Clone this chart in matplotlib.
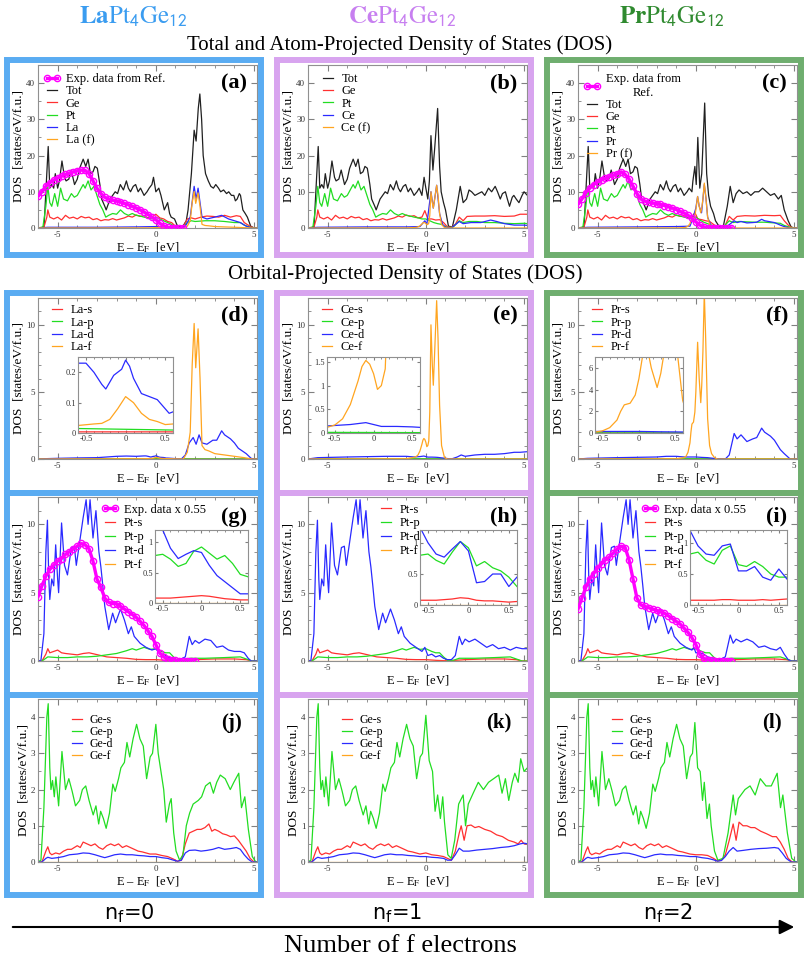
import matplotlib
matplotlib.use('Agg')
import matplotlib.pyplot as plt
from matplotlib.patches import Rectangle, FancyArrowPatch
from matplotlib.ticker import MultipleLocator, FuncFormatter
import numpy as np

plt.rcParams['font.family'] = ['Liberation Serif', 'DejaVu Serif']
plt.rcParams['mathtext.fontset'] = 'stix'
plt.rcParams['axes.unicode_minus'] = False

# ====================== data: (E - E_F [eV], DOS [states/eV/f.u.]) ======================
# --- total DOS, valence part shared by the three compounds ---
tot_val = [(-6.0, 0.0), (-5.8, 0.0), (-5.69, 0.5), (-5.6, 10.0), (-5.48, 22.5), (-5.4, 11.0), (-5.3, 12.0),
           (-5.2, 11.0), (-5.12, 15.0), (-5.0, 11.0), (-4.91, 13.0), (-4.78, 18.5), (-4.65, 14.0), (-4.57, 13.0),
           (-4.43, 13.5), (-4.31, 16.0), (-4.14, 12.0), (-4.0, 13.5), (-3.88, 16.5), (-3.7, 19.0), (-3.57, 17.0),
           (-3.45, 19.0), (-3.33, 15.0), (-3.2, 15.5), (-3.1, 17.0), (-2.98, 16.5), (-2.85, 12.0), (-2.76, 8.0),
           (-2.6, 6.0), (-2.53, 5.0), (-2.43, 6.5), (-2.33, 8.0), (-2.2, 9.0), (-2.07, 10.0), (-1.95, 9.5),
           (-1.81, 12.0), (-1.65, 10.5), (-1.5, 13.0), (-1.4, 11.0), (-1.29, 10.0), (-1.15, 11.5), (-1.03, 12.0),
           (-0.9, 10.0), (-0.78, 11.0), (-0.6, 9.0), (-0.45, 10.0), (-0.34, 11.0)]
tot_la = [(-0.2, 12.0), (-0.12, 14.0), (0.0, 10.0), (0.15, 11.0), (0.26, 9.0), (0.43, 5.0), (0.6, 7.0), (0.7, 4.0),
          (0.78, 3.0), (0.95, 2.5), (1.12, 0.3), (1.38, 0.5), (1.55, 2.0), (1.64, 5.0), (1.81, 15.0), (1.95, 27.0),
          (2.05, 24.0), (2.16, 33.0), (2.24, 37.0), (2.33, 30.0), (2.41, 20.0), (2.53, 15.0), (2.67, 13.0),
          (2.8, 11.5), (2.93, 11.0), (3.05, 12.0), (3.19, 11.0), (3.3, 10.0), (3.45, 10.5), (3.6, 9.5), (3.71, 10.0),
          (3.85, 9.0), (3.97, 9.0), (4.05, 7.5), (4.14, 8.0), (4.25, 9.5), (4.31, 9.0), (4.43, 5.0), (4.55, 4.0),
          (4.66, 3.0), (4.83, 0.5), (5.0, 0.0), (5.2, 0.0)]
tot_ce = [(-0.2, 9.0), (-0.09, 14.0), (0.0, 11.0), (0.1, 8.0), (0.18, 13.0), (0.26, 25.5), (0.36, 16.0), (0.45, 22.0),
          (0.6, 33.0), (0.7, 17.0), (0.78, 10.0), (0.9, 7.0), (1.0, 5.0), (1.15, 0.5), (1.35, 0.3), (1.55, 5.0),
          (1.75, 11.5), (1.9, 7.0), (2.07, 8.0), (2.2, 10.5), (2.33, 10.0), (2.5, 9.0), (2.67, 9.5), (2.85, 10.0),
          (3.0, 9.0), (3.19, 11.0), (3.35, 10.0), (3.53, 11.5), (3.65, 10.0), (3.79, 8.0), (3.9, 9.5), (4.05, 10.0),
          (4.15, 8.0), (4.26, 6.0), (4.4, 8.5), (4.48, 9.0), (4.6, 8.0), (4.74, 7.0), (4.9, 9.0), (5.0, 10.0),
          (5.17, 9.0)]
tot_pr = [(-0.2, 10.0), (-0.15, 13.0), (-0.05, 17.0), (0.02, 12.0), (0.1, 25.0), (0.2, 11.0), (0.3, 15.0),
          (0.45, 34.5), (0.55, 15.0), (0.65, 9.0), (0.75, 6.0), (0.9, 4.0), (1.0, 2.0), (1.2, 0.3), (1.4, 0.5),
          (1.6, 6.0), (1.75, 11.5), (1.9, 7.0), (2.05, 9.5), (2.2, 10.5), (2.4, 9.5), (2.6, 10.0), (2.8, 9.0),
          (3.0, 10.0), (3.2, 10.0), (3.4, 11.0), (3.6, 10.0), (3.8, 9.0), (4.0, 9.5), (4.2, 8.0), (4.35, 9.0),
          (4.5, 5.0), (4.7, 2.0), (4.85, 0.3), (5.0, 0.0), (5.2, 0.0)]

# --- Ge and Pt atom-projected DOS ---
ge_val = [(-6.0, 0.0), (-5.7, 0.2), (-5.55, 3.0), (-5.5, 5.0), (-5.4, 3.0), (-5.2, 2.5), (-5.0, 3.0), (-4.8, 2.2),
          (-4.6, 3.5), (-4.4, 2.7), (-4.2, 3.0), (-4.0, 2.5), (-3.8, 3.2), (-3.6, 2.8), (-3.4, 3.0), (-3.2, 2.3),
          (-3.0, 2.6), (-2.8, 2.0), (-2.6, 2.3), (-2.4, 2.2), (-2.2, 2.6), (-2.0, 2.2), (-1.8, 2.5), (-1.6, 2.8),
          (-1.4, 3.3), (-1.2, 3.0), (-1.0, 3.6), (-0.8, 3.2), (-0.6, 3.4), (-0.4, 2.8)]
ge_la = [(-0.2, 3.0), (0.0, 3.8), (0.2, 2.8), (0.4, 2.5), (0.6, 1.8), (0.8, 1.5), (1.0, 0.5), (1.2, 0.1), (1.4, 0.3),
         (1.6, 2.5), (1.8, 2.8), (2.0, 2.5), (2.3, 3.0), (2.6, 3.3), (2.9, 3.2), (3.2, 3.0), (3.5, 3.5), (3.8, 3.0),
         (4.1, 3.4), (4.3, 3.2), (4.5, 1.5), (4.7, 0.8), (4.9, 0.2), (5.05, 0.0), (5.2, 0.0)]
ge_ce = [(-0.2, 3.0), (-0.05, 4.8), (0.1, 2.5), (0.3, 2.5), (0.5, 2.2), (0.7, 2.3), (0.9, 1.5), (1.1, 0.3), (1.3, 0.2),
         (1.5, 1.0), (1.7, 3.0), (1.9, 2.0), (2.1, 3.2), (2.5, 3.3), (3.0, 3.3), (3.5, 3.4), (4.0, 3.2), (4.5, 3.3),
         (4.8, 3.8), (5.2, 3.8)]
ge_pr = [(-0.2, 3.0), (-0.05, 4.3), (0.1, 2.5), (0.3, 2.3), (0.5, 2.0), (0.7, 1.8), (0.9, 1.0), (1.1, 0.2), (1.3, 0.1),
         (1.5, 0.8), (1.7, 3.2), (1.9, 2.2), (2.1, 3.2), (2.5, 3.4), (3.0, 3.3), (3.5, 3.5), (4.0, 3.4), (4.3, 3.5),
         (4.5, 2.0), (4.7, 0.8), (4.9, 0.1), (5.05, 0.0), (5.2, 0.0)]
pt_val = [(-6.0, 0.0), (-5.75, 0.3), (-5.6, 6.0), (-5.5, 11.5), (-5.4, 7.0), (-5.3, 6.0), (-5.15, 9.5), (-5.0, 6.0),
          (-4.85, 11.0), (-4.7, 8.0), (-4.5, 7.5), (-4.3, 9.5), (-4.15, 8.5), (-4.0, 9.0), (-3.85, 10.5), (-3.7, 12.0),
          (-3.6, 11.0), (-3.45, 13.0), (-3.3, 10.5), (-3.15, 11.5), (-3.0, 9.0), (-2.85, 6.5), (-2.7, 5.0),
          (-2.55, 3.0), (-2.4, 3.5), (-2.2, 4.0), (-2.0, 3.8), (-1.8, 5.0), (-1.6, 4.0), (-1.4, 3.5), (-1.2, 4.0),
          (-1.0, 3.5), (-0.8, 3.3), (-0.6, 3.0), (-0.4, 2.8)]
pt_la = [(-0.2, 2.5), (0.0, 3.0), (0.2, 2.5), (0.4, 2.0), (0.6, 1.5), (0.8, 1.0), (1.0, 0.3), (1.2, 0.1), (1.4, 0.2),
         (1.6, 1.5), (1.8, 2.0), (2.0, 1.8), (2.5, 2.0), (3.0, 2.0), (3.5, 1.8), (4.0, 1.5), (4.3, 1.5), (4.5, 0.8),
         (4.8, 0.2), (5.0, 0.0), (5.2, 0.0)]
pt_ce = [(-0.2, 2.5), (0.0, 2.5), (0.2, 2.0), (0.4, 1.5), (0.6, 1.2), (0.8, 1.0), (1.0, 0.3), (1.2, 0.1), (1.4, 0.3),
         (1.7, 2.0), (1.9, 1.5), (2.2, 1.8), (2.6, 1.8), (3.0, 1.5), (3.5, 1.5), (4.0, 1.3), (4.5, 1.2), (5.0, 1.3),
         (5.2, 1.2)]
pt_pr = [(-0.2, 2.5), (0.0, 3.0), (0.2, 2.2), (0.4, 1.6), (0.6, 1.2), (0.8, 0.8), (1.0, 0.3), (1.2, 0.1), (1.4, 0.3),
         (1.7, 2.0), (1.9, 1.5), (2.2, 1.8), (2.6, 1.7), (3.0, 1.6), (3.5, 1.6), (4.0, 1.4), (4.3, 1.3), (4.5, 0.7),
         (4.8, 0.2), (5.0, 0.0), (5.2, 0.0)]

# --- rare-earth atom DOS and its f part ---
la_atom = [(-6.0, 0.0), (-5.5, 0.2), (-3.0, 0.2), (-1.0, 0.3), (0.0, 0.4), (0.5, 0.2), (1.2, 0.0), (1.5, 0.5),
           (1.75, 3.0), (1.95, 11.5), (2.05, 8.0), (2.15, 11.0), (2.35, 3.0), (2.6, 2.5), (3.0, 3.0), (3.35, 3.5),
           (3.7, 2.5), (4.0, 2.0), (4.3, 1.5), (4.6, 0.5), (4.9, 0.0), (5.2, 0.0)]
ce_atom = [(-6.0, 0.0), (-5.5, 0.2), (-3.0, 0.3), (-1.0, 0.3), (-0.3, 0.4), (-0.05, 2.0), (0.05, 1.0), (0.26, 10.0),
           (0.38, 5.5), (0.55, 11.8), (0.7, 4.0), (0.85, 1.0), (1.0, 0.2), (1.3, 0.0), (1.7, 1.8), (1.9, 1.2),
           (2.3, 1.5), (2.8, 1.5), (3.3, 2.2), (3.6, 1.8), (4.0, 1.2), (4.5, 0.8), (5.0, 0.8), (5.2, 0.7)]
pr_atom = [(-6.0, 0.0), (-5.5, 0.2), (-3.0, 0.3), (-1.0, 0.4), (-0.3, 0.5), (-0.15, 2.7), (0.0, 5.5), (0.09, 8.7),
           (0.17, 6.0), (0.29, 4.2), (0.36, 8.0), (0.43, 12.0), (0.52, 8.0), (0.6, 3.0), (0.78, 0.5), (0.95, 0.1),
           (1.3, 0.0), (1.6, 0.5), (1.95, 2.0), (2.1, 1.5), (2.3, 1.8), (2.6, 1.4), (2.9, 1.5), (3.1, 1.6),
           (3.35, 2.4), (3.5, 2.0), (3.8, 1.7), (4.0, 1.5), (4.3, 0.8), (4.5, 0.4), (4.8, 0.0), (5.2, 0.0)]
la_f = [(-6.0, 0.0), (-1.0, 0.02), (-0.6, 0.025), (-0.4, 0.03), (-0.3, 0.032), (-0.2, 0.045), (-0.1, 0.08), (0.0, 0.12),
        (0.1, 0.1), (0.2, 0.065), (0.3, 0.045), (0.4, 0.038), (0.5, 0.028), (0.6, 0.03), (1.0, 0.01), (1.4, 0.0),
        (1.6, 0.5), (1.75, 2.0), (1.85, 7.0), (1.95, 10.1), (2.03, 6.8), (2.15, 9.7), (2.25, 6.0), (2.35, 1.0),
        (2.5, 0.7), (2.7, 0.6), (3.0, 0.4), (3.5, 0.3), (4.0, 0.2), (4.5, 0.1), (4.9, 0.0), (5.2, 0.0)]
ce_f = [(-6.0, 0.0), (-1.0, 0.02), (-0.6, 0.12), (-0.5, 0.17), (-0.4, 0.3), (-0.3, 0.6), (-0.2, 1.1), (-0.15, 1.4),
        (-0.1, 1.53), (-0.05, 1.45), (0.0, 1.25), (0.05, 0.92), (0.1, 1.0), (0.15, 1.35), (0.2, 3.5), (0.26, 10.0),
        (0.33, 7.0), (0.38, 5.5), (0.45, 8.0), (0.55, 11.8), (0.62, 9.0), (0.7, 4.0), (0.8, 1.0), (0.95, 0.1),
        (1.1, 0.0), (5.2, 0.0)]
pr_f = [(-6.0, 0.0), (-1.0, 0.02), (-0.6, 0.1), (-0.5, 0.2), (-0.4, 0.5), (-0.3, 1.2), (-0.25, 2.0), (-0.2, 2.6),
        (-0.12, 2.75), (-0.05, 3.5), (0.0, 5.0), (0.09, 8.7), (0.17, 6.0), (0.25, 4.2), (0.3, 5.5), (0.36, 8.0),
        (0.43, 12.4), (0.5, 9.0), (0.6, 3.0), (0.7, 1.0), (0.8, 0.4), (0.95, 0.1), (1.1, 0.0), (5.2, 0.0)]

# --- rare-earth orbital d DOS (s and p are nearly zero) ---
la_d = [(-6.0, 0.0), (-5.5, 0.03), (-5.0, 0.05), (-4.0, 0.08), (-3.0, 0.1), (-2.0, 0.2), (-1.5, 0.22), (-1.0, 0.2),
        (-0.6, 0.23), (-0.5, 0.23), (-0.4, 0.2), (-0.3, 0.16), (-0.25, 0.145), (-0.15, 0.19), (-0.1, 0.2),
        (-0.05, 0.21), (0.0, 0.24), (0.05, 0.22), (0.1, 0.18), (0.2, 0.13), (0.3, 0.12), (0.4, 0.11), (0.5, 0.08),
        (0.55, 0.065), (0.6, 0.07), (1.0, 0.03), (1.3, 0.0), (1.5, 0.3), (1.7, 1.2), (1.9, 1.6), (2.05, 1.1),
        (2.2, 1.8), (2.35, 1.2), (2.6, 1.1), (2.9, 1.4), (3.1, 1.4), (3.35, 2.1), (3.5, 1.8), (3.8, 1.5), (4.0, 1.2),
        (4.2, 0.8), (4.4, 0.6), (4.6, 0.4), (4.85, 0.05), (5.0, 0.0), (5.2, 0.0)]
ce_d = [(-6.0, 0.0), (-5.5, 0.1), (-4.0, 0.15), (-2.0, 0.2), (-1.0, 0.2), (-0.6, 0.15), (-0.3, 0.18), (-0.1, 0.22),
        (0.0, 0.18), (0.1, 0.14), (0.3, 0.14), (0.5, 0.13), (0.6, 0.12), (1.0, 0.05), (1.3, 0.0), (1.6, 0.15),
        (1.8, 0.3), (2.0, 0.2), (2.5, 0.3), (3.0, 0.35), (3.5, 0.35), (4.0, 0.4), (4.5, 0.5), (4.8, 0.5), (5.2, 0.55)]
pr_d = [(-6.0, 0.0), (-5.5, 0.05), (-4.0, 0.1), (-2.0, 0.15), (-1.5, 0.2), (-1.0, 0.2), (-0.6, 0.15), (-0.3, 0.15),
        (0.0, 0.15), (0.3, 0.12), (0.6, 0.1), (1.0, 0.03), (1.5, 0.0), (1.7, 0.3), (1.95, 1.9), (2.1, 1.5),
        (2.3, 1.8), (2.6, 1.3), (2.9, 1.5), (3.1, 1.6), (3.35, 2.3), (3.5, 2.0), (3.8, 1.7), (4.0, 1.4), (4.3, 0.7),
        (4.5, 0.4), (4.8, 0.0), (5.2, 0.0)]
re_s = [(-6.0, 0.0), (-0.6, 0.004), (0.6, 0.004), (5.2, 0.0)]
re_p = [(-6.0, 0.0), (-1.0, 0.015), (-0.6, 0.015), (0.6, 0.01), (1.5, 0.0), (5.2, 0.0)]
zero_line = [(-6.0, 0.0), (5.2, 0.0)]

# --- Pt orbital DOS ---
pt_d_val = [(-6.0, 0.0), (-5.85, 0.05), (-5.7, 2.0), (-5.6, 8.0), (-5.52, 10.3), (-5.45, 6.0), (-5.4, 4.5),
            (-5.3, 6.0), (-5.2, 5.5), (-5.1, 8.5), (-5.0, 6.0), (-4.95, 5.0), (-4.8, 10.1), (-4.65, 7.0),
            (-4.5, 6.3), (-4.3, 8.3), (-4.15, 8.4), (-4.05, 7.0), (-3.85, 9.0), (-3.7, 10.5), (-3.55, 11.8),
            (-3.45, 10.0), (-3.35, 11.8), (-3.2, 9.0), (-3.05, 11.0), (-2.9, 8.0), (-2.8, 6.9), (-2.7, 5.5),
            (-2.6, 4.0), (-2.4, 2.3), (-2.2, 3.5), (-2.05, 2.8), (-1.8, 3.8), (-1.6, 3.0), (-1.4, 2.0),
            (-1.25, 2.5), (-1.1, 1.8), (-0.8, 1.3), (-0.5, 1.0)]
pt_d_la = [(-0.2, 0.8), (0.0, 0.9), (0.2, 0.5), (0.4, 0.5), (0.6, 0.3), (0.9, 0.1), (1.2, 0.1), (1.5, 0.3),
           (1.7, 1.8), (1.85, 1.2), (2.0, 1.5), (2.2, 1.3), (2.5, 1.6), (2.8, 1.5), (3.1, 1.0), (3.4, 1.1),
           (3.7, 0.8), (4.0, 0.7), (4.3, 0.7), (4.5, 0.6), (4.7, 0.2), (4.85, 0.0), (5.2, 0.0)]
pt_d_ce = [(-0.2, 0.7), (-0.05, 1.0), (0.1, 0.4), (0.3, 0.5), (0.5, 0.3), (0.7, 0.4), (0.9, 0.2), (1.1, 0.1),
           (1.3, 0.1), (1.5, 0.4), (1.7, 1.8), (1.85, 1.2), (2.0, 1.6), (2.2, 1.4), (2.5, 1.6), (2.8, 1.3),
           (3.1, 1.0), (3.4, 1.2), (3.7, 0.9), (4.0, 1.0), (4.3, 0.8), (4.6, 1.0), (4.9, 0.9), (5.2, 0.9)]
pt_d_pr = [(-0.2, 0.8), (-0.1, 1.0), (0.0, 0.6), (0.2, 0.6), (0.4, 0.5), (0.6, 0.3), (0.9, 0.2), (1.2, 0.1),
           (1.5, 0.3), (1.75, 1.9), (1.9, 1.3), (2.05, 1.6), (2.3, 1.4), (2.6, 1.6), (2.9, 1.4), (3.2, 1.0),
           (3.5, 1.1), (3.8, 0.9), (4.1, 0.8), (4.3, 1.0), (4.5, 0.5), (4.7, 0.1), (4.85, 0.0), (5.2, 0.0)]
pt_s = [(-6.0, 0.0), (-5.8, 0.0), (-5.6, 0.5), (-5.5, 0.9), (-5.4, 0.6), (-5.2, 0.7), (-5.0, 0.8), (-4.8, 0.6),
        (-4.6, 0.55), (-4.3, 0.5), (-4.0, 0.45), (-3.7, 0.55), (-3.4, 0.6), (-3.1, 0.5), (-2.8, 0.4), (-2.5, 0.3),
        (-2.0, 0.25), (-1.5, 0.2), (-1.0, 0.12), (-0.5, 0.1), (0.0, 0.1), (0.5, 0.05), (1.0, 0.02), (1.5, 0.05),
        (2.0, 0.1), (3.0, 0.15), (4.0, 0.15), (4.6, 0.1), (4.9, 0.0), (5.2, 0.0)]
pt_p = [(-6.0, 0.0), (-5.8, 0.0), (-5.6, 0.2), (-5.5, 0.3), (-5.0, 0.25), (-4.5, 0.25), (-4.0, 0.3), (-3.5, 0.3),
        (-3.0, 0.35), (-2.5, 0.45), (-2.0, 0.55), (-1.5, 0.75), (-1.2, 0.9), (-1.0, 0.8), (-0.6, 1.0), (-0.3, 0.85),
        (0.0, 0.9), (0.3, 0.7), (0.5, 0.6), (0.7, 0.6), (0.9, 0.3), (1.1, 0.05), (1.4, 0.05), (1.7, 0.2),
        (2.5, 0.2), (3.5, 0.25), (4.3, 0.3), (4.6, 0.15), (4.9, 0.0), (5.2, 0.0)]

# Pt insets near E_F
inset_e = [-0.6, -0.5, -0.4, -0.3, -0.2, -0.1, 0.0, 0.1, 0.2, 0.3, 0.4, 0.5, 0.6]
ins_d_la = [1.35, 1.2, 0.9, 0.73, 0.8, 0.86, 0.83, 0.62, 0.45, 0.35, 0.25, 0.15, 0.15]
ins_p_la = [0.78, 0.8, 0.72, 0.6, 0.65, 0.85, 0.92, 0.82, 0.72, 0.78, 0.65, 0.47, 0.43]
ins_s_la = [0.08, 0.08, 0.08, 0.09, 0.1, 0.11, 0.12, 0.11, 0.09, 0.07, 0.06, 0.05, 0.05]
ins_d_ce = [1.25, 1.0, 0.82, 0.77, 0.9, 1.02, 0.87, 0.36, 0.38, 0.5, 0.5, 0.3, 0.45]
ins_p_ce = [0.8, 0.82, 0.72, 0.66, 0.85, 1.02, 0.92, 0.63, 0.7, 0.6, 0.55, 0.45, 0.3]
ins_s_ce = [0.08, 0.08, 0.08, 0.09, 0.1, 0.12, 0.11, 0.08, 0.07, 0.07, 0.06, 0.05, 0.06]
ins_d_pr = [1.2, 0.95, 0.82, 0.8, 0.95, 0.98, 0.55, 0.55, 0.62, 0.45, 0.4, 0.58, 0.42]
ins_p_pr = [0.82, 0.85, 0.72, 0.66, 0.88, 0.95, 0.65, 0.62, 0.7, 0.62, 0.5, 0.45, 0.45]
ins_s_pr = [0.08, 0.08, 0.08, 0.08, 0.09, 0.09, 0.08, 0.08, 0.08, 0.09, 0.08, 0.09, 0.1]

# --- Ge orbital DOS ---
ge_p_val = [(-6.0, 0.0), (-5.85, 0.05), (-5.7, 1.5), (-5.55, 4.0), (-5.48, 4.37), (-5.4, 2.6), (-5.34, 2.0),
            (-5.26, 2.25), (-5.17, 1.8), (-5.09, 2.35), (-4.95, 1.55), (-4.78, 3.05), (-4.6, 2.0), (-4.43, 2.3),
            (-4.26, 1.95), (-4.09, 1.55), (-3.88, 1.7), (-3.74, 2.0), (-3.57, 2.1), (-3.4, 1.7), (-3.19, 1.3),
            (-3.05, 1.55), (-2.91, 1.05), (-2.81, 1.4), (-2.67, 1.2), (-2.53, 0.93), (-2.36, 1.35), (-2.19, 2.15),
            (-2.07, 1.95), (-1.9, 2.3), (-1.78, 2.6), (-1.6, 2.75), (-1.47, 3.3), (-1.33, 2.9), (-1.16, 3.4),
            (-0.98, 3.8), (-0.81, 3.4), (-0.64, 3.2), (-0.47, 2.3), (-0.29, 2.9)]
ge_p_la = [(-0.17, 3.0), (0.0, 3.8), (0.12, 3.0), (0.26, 2.5), (0.4, 2.0), (0.53, 1.1), (0.69, 1.6), (0.78, 1.75),
           (0.91, 0.8), (1.03, 0.3), (1.21, 0.05), (1.38, 0.2), (1.55, 1.0), (1.72, 1.35), (1.9, 1.6), (2.16, 1.7),
           (2.33, 1.8), (2.53, 2.1), (2.76, 2.2), (2.93, 1.9), (3.1, 2.2), (3.28, 2.4), (3.53, 2.3), (3.79, 2.0),
           (3.97, 2.2), (4.22, 2.45), (4.36, 1.5), (4.53, 1.8), (4.71, 0.9), (4.91, 0.15), (5.09, 0.0), (5.2, 0.0)]
ge_p_ce = [(-0.17, 3.0), (0.0, 4.05), (0.17, 2.8), (0.34, 2.5), (0.47, 1.4), (0.6, 1.85), (0.74, 1.2), (0.86, 1.8),
           (0.95, 1.1), (1.12, 0.2), (1.29, 0.1), (1.47, 0.6), (1.67, 1.6), (1.9, 1.85), (2.02, 1.0), (2.16, 1.6),
           (2.41, 1.9), (2.67, 2.2), (2.93, 2.0), (3.19, 2.2), (3.45, 2.3), (3.71, 2.4), (3.88, 1.9), (4.05, 2.3),
           (4.22, 1.7), (4.4, 2.2), (4.53, 2.45), (4.7, 2.2), (4.83, 2.85), (5.0, 2.5), (5.17, 2.6)]
ge_p_pr = [(-0.17, 3.0), (-0.05, 3.85), (0.09, 2.6), (0.22, 2.5), (0.34, 1.7), (0.43, 2.2), (0.57, 1.2), (0.69, 1.6),
           (0.78, 1.0), (0.95, 0.3), (1.12, 0.05), (1.38, 0.1), (1.64, 0.8), (1.9, 1.85), (2.02, 1.3), (2.16, 1.75),
           (2.5, 2.0), (2.76, 2.1), (3.02, 1.85), (3.28, 2.3), (3.57, 2.1), (3.84, 2.1), (4.14, 2.45), (4.31, 1.5),
           (4.43, 1.85), (4.66, 0.8), (4.88, 0.1), (5.09, 0.0), (5.2, 0.0)]
ge_s_val = [(-6.0, 0.0), (-5.8, 0.0), (-5.6, 0.3), (-5.5, 0.42), (-5.4, 0.25), (-5.3, 0.2), (-5.1, 0.25), (-4.9, 0.22),
            (-4.7, 0.3), (-4.5, 0.35), (-4.3, 0.35), (-4.0, 0.45), (-3.85, 0.4), (-3.7, 0.55), (-3.5, 0.5),
            (-3.3, 0.45), (-3.1, 0.5), (-2.9, 0.4), (-2.7, 0.35), (-2.5, 0.45), (-2.3, 0.5), (-2.1, 0.45),
            (-1.9, 0.5), (-1.7, 0.4), (-1.5, 0.45), (-1.3, 0.4), (-1.1, 0.35), (-0.9, 0.3), (-0.7, 0.28),
            (-0.5, 0.25), (-0.3, 0.22)]
ge_s_la = [(0.0, 0.22), (0.3, 0.18), (0.6, 0.15), (0.9, 0.08), (1.1, 0.02), (1.3, 0.05), (1.5, 0.5), (1.7, 0.8),
           (1.9, 0.85), (2.1, 0.9), (2.3, 0.9), (2.5, 0.95), (2.7, 1.05), (2.85, 0.85), (3.0, 0.9), (3.2, 0.85),
           (3.4, 0.78), (3.6, 0.75), (3.8, 0.7), (4.0, 0.72), (4.2, 0.6), (4.4, 0.45), (4.6, 0.3), (4.8, 0.1),
           (5.0, 0.0), (5.2, 0.0)]
ge_s_ce = [(0.0, 0.25), (0.3, 0.2), (0.6, 0.18), (0.9, 0.15), (1.1, 0.1), (1.3, 0.05), (1.5, 0.3), (1.7, 0.8),
           (1.8, 1.0), (1.95, 0.6), (2.1, 1.0), (2.3, 1.02), (2.5, 0.95), (2.7, 0.98), (3.0, 0.9), (3.3, 0.85),
           (3.6, 0.75), (3.9, 0.7), (4.2, 0.6), (4.5, 0.55), (4.7, 0.5), (4.85, 0.6), (5.0, 0.5), (5.2, 0.5)]
ge_s_pr = [(0.0, 0.2), (0.3, 0.2), (0.6, 0.18), (0.9, 0.1), (1.1, 0.03), (1.3, 0.05), (1.5, 0.2), (1.7, 0.6),
           (1.9, 1.05), (2.05, 0.6), (2.2, 1.1), (2.4, 1.0), (2.6, 1.0), (2.8, 0.95), (3.0, 0.95), (3.3, 0.85),
           (3.6, 0.78), (3.9, 0.7), (4.1, 0.7), (4.3, 0.55), (4.5, 0.35), (4.7, 0.1), (4.9, 0.0), (5.2, 0.0)]
ge_d_val = [(-6.0, 0.0), (-5.8, 0.0), (-5.6, 0.1), (-5.5, 0.13), (-5.3, 0.1), (-5.0, 0.12), (-4.7, 0.15), (-4.4, 0.2),
            (-4.0, 0.22), (-3.7, 0.25), (-3.4, 0.24), (-3.1, 0.2), (-2.8, 0.15), (-2.6, 0.12), (-2.4, 0.15),
            (-2.1, 0.2), (-1.8, 0.22), (-1.5, 0.2), (-1.2, 0.2), (-0.9, 0.18), (-0.6, 0.17), (-0.3, 0.15)]
ge_d_la = [(0.0, 0.15), (0.3, 0.12), (0.6, 0.1), (0.9, 0.05), (1.1, 0.02), (1.3, 0.05), (1.5, 0.25), (1.7, 0.32),
           (2.0, 0.33), (2.3, 0.3), (2.6, 0.32), (2.9, 0.35), (3.2, 0.4), (3.5, 0.35), (3.8, 0.37), (4.1, 0.4),
           (4.3, 0.35), (4.5, 0.2), (4.7, 0.08), (4.9, 0.0), (5.2, 0.0)]
ge_d_ce = [(0.0, 0.15), (0.3, 0.13), (0.6, 0.12), (0.9, 0.1), (1.1, 0.05), (1.3, 0.05), (1.5, 0.2), (1.7, 0.38),
           (1.9, 0.3), (2.2, 0.3), (2.6, 0.33), (3.0, 0.35), (3.4, 0.37), (3.8, 0.4), (4.2, 0.42), (4.5, 0.45),
           (4.8, 0.5), (5.0, 0.52), (5.2, 0.5)]
ge_d_pr = [(0.0, 0.15), (0.3, 0.12), (0.6, 0.1), (0.9, 0.06), (1.1, 0.02), (1.3, 0.04), (1.5, 0.15), (1.7, 0.3),
           (1.9, 0.4), (2.1, 0.3), (2.4, 0.32), (2.8, 0.35), (3.2, 0.37), (3.6, 0.38), (4.0, 0.4), (4.2, 0.38),
           (4.4, 0.25), (4.6, 0.1), (4.85, 0.0), (5.2, 0.0)]

exp_e_a = [-6.0, -5.8, -5.6, -5.4, -5.2, -5.0, -4.8, -4.6, -4.4, -4.2, -4.0, -3.8, -3.6, -3.4, -3.2, -3.0, -2.8,
           -2.6, -2.4, -2.2, -2.0, -1.8, -1.6, -1.4, -1.2, -1.0, -0.8, -0.6, -0.4, -0.2, 0.0, 0.2, 0.4, 0.6, 0.8,
           1.0, 1.2, 1.4]
exp_a = [8.7, 10.0, 11.5, 12.5, 13.2, 13.8, 14.3, 14.8, 15.2, 15.5, 15.8, 16.0, 15.9, 15.0, 13.0, 11.0, 9.5, 8.5,
         8.0, 7.7, 7.5, 7.2, 6.8, 6.4, 6.0, 5.5, 5.0, 4.4, 3.7, 3.0, 2.3, 1.3, 0.6, 0.2, 0.05, 0.0, 0.0, 0.0]
exp_e_c = exp_e_a + [1.6, 1.8]
exp_c = [6.5, 8.0, 9.8, 11.0, 12.0, 12.7, 13.3, 13.8, 14.2, 14.6, 15.0, 15.5, 14.8, 13.5, 11.5, 9.5, 8.0, 7.4, 7.1,
         6.9, 6.7, 6.5, 6.2, 5.9, 5.5, 5.1, 4.6, 4.1, 3.5, 2.7, 1.7, 0.8, 0.3, 0.1, 0.0, 0.0, 0.0, 0.0, 0.0, 0.0]
exp_e_g = exp_e_a + [1.6, 1.8, 2.0]
exp_g = [4.7, 5.5, 6.2, 6.7, 7.0, 7.3, 7.5, 7.8, 8.0, 8.2, 8.4, 8.6, 8.5, 8.2, 7.3, 6.0, 5.4, 4.6, 4.3, 4.2, 4.2,
         4.0, 3.8, 3.6, 3.4, 3.2, 2.9, 2.6, 2.2, 1.8, 1.2, 0.6, 0.3, 0.15, 0.1, 0.05, 0.02, 0.0, 0.0, 0.0, 0.0]
exp_i = [3.8, 4.6, 5.4, 6.0, 6.4, 6.8, 7.1, 7.4, 7.6, 7.9, 8.2, 8.4, 8.3, 7.4, 6.0, 4.6, 4.1, 4.0, 3.9, 3.8, 3.7,
         3.6, 3.5, 3.3, 3.1, 2.9, 2.7, 2.4, 2.1, 1.7, 1.2, 0.5, 0.2, 0.1, 0.05, 0.0, 0.0, 0.0, 0.0, 0.0]

# ====================== figure ======================
W, H = 810, 959
fig = plt.figure(figsize=(W / 100, H / 100), dpi=100)

K_TOT, K_RED, K_GRN, K_BLU, K_ORA, K_EXP = '#202020', '#ff3030', '#22dd22', '#2a2aff', '#ffa520', '#ff00ff'
col_edge = ['#5aacf2', '#d8a4ef', '#6fae6f']
col_head = ['#3a9cf0', '#c77ff0', '#2f8a2f']
col_x0 = [38, 308, 578]
row_y = [(65, 228), (298, 459), (497, 661), (699, 862)]
fmt = FuncFormatter(lambda v, p: '%g' % v)


def fig_rect(x0, y0, x1, y1):
    return [x0 / W, 1 - y1 / H, (x1 - x0) / W, (y1 - y0) / H]


def xy(pts):
    a = np.array(pts)
    return a[:, 0], a[:, 1]


def panel(c, r, ytop, ymaj, ymin):
    ax = fig.add_axes(fig_rect(col_x0[c], row_y[r][0], col_x0[c] + 219, row_y[r][1]))
    ax.set_xlim(-6, 5.15)
    ax.set_ylim(0, ytop)
    ax.xaxis.set_major_locator(MultipleLocator(5))
    ax.xaxis.set_minor_locator(MultipleLocator(1))
    ax.yaxis.set_major_locator(MultipleLocator(ymaj))
    ax.yaxis.set_minor_locator(MultipleLocator(ymin))
    ax.yaxis.set_major_formatter(fmt)
    ax.tick_params(which='both', direction='in', top=True, right=True, color='#808080',
                   labelsize=6.5, labelcolor='#333333', pad=2)
    ax.tick_params(which='major', length=4)
    ax.tick_params(which='minor', length=2)
    for s in ax.spines.values():
        s.set_color('#909090')
        s.set_linewidth(0.8)
    ax.set_xlabel(r'E – E$_\mathrm{F}$  [eV]', fontsize=9, labelpad=1)
    ax.set_ylabel('DOS  [states/eV/f.u.]', fontsize=9.5, labelpad=1)
    return ax


def inset(ax, rect, ytop, ymaj):
    ia = ax.inset_axes(rect)
    ia.set_xlim(-0.6, 0.6)
    ia.set_ylim(0, ytop)
    ia.set_xticks([-0.5, 0, 0.5])
    ia.xaxis.set_minor_locator(MultipleLocator(0.1))
    ia.yaxis.set_major_locator(MultipleLocator(ymaj))
    ia.xaxis.set_major_formatter(fmt)
    ia.yaxis.set_major_formatter(fmt)
    ia.tick_params(which='both', direction='in', top=True, right=True, color='#808080',
                   labelsize=6, labelcolor='#333333', pad=1.5, length=2.5)
    ia.tick_params(which='minor', length=1.5)
    for s in ia.spines.values():
        s.set_color('#909090')
        s.set_linewidth(0.8)
    return ia


def line(ax, pts, color, label=None):
    e, d = xy(pts)
    ax.plot(e, d, color=color, lw=0.9, label=label)


def exp(ax, e, d, label):
    ax.plot(e, d, '-o', color=K_EXP, mfc='none', ms=4.5, mew=1, lw=2.4, zorder=4, label=label)


def legend(ax, x, y, fs=9, sp=0.02):
    return ax.legend(loc='upper left', bbox_to_anchor=(x, y), frameon=False, fontsize=fs, handlelength=1.4,
                     handletextpad=0.4, labelspacing=sp, borderaxespad=0, borderpad=0, numpoints=2)


def tag(ax, s, x, y, fs=16):
    ax.text(x, y, s, transform=ax.transAxes, ha='right', va='top', fontsize=fs, fontweight='bold')


names = ['La', 'Ce', 'Pr']
tot_c = [tot_la, tot_ce, tot_pr]
ge_c = [ge_la, ge_ce, ge_pr]
pt_c = [pt_la, pt_ce, pt_pr]
atom_c = [la_atom, ce_atom, pr_atom]
f_c = [la_f, ce_f, pr_f]
d_c = [la_d, ce_d, pr_d]
ptd_c = [pt_d_la, pt_d_ce, pt_d_pr]
ins_pt = [(ins_s_la, ins_p_la, ins_d_la), (ins_s_ce, ins_p_ce, ins_d_ce), (ins_s_pr, ins_p_pr, ins_d_pr)]
gep_c = [ge_p_la, ge_p_ce, ge_p_pr]
ges_c = [ge_s_la, ge_s_ce, ge_s_pr]
ged_c = [ge_d_la, ge_d_ce, ge_d_pr]
letters = 'abcdefghijkl'

for c in range(3):
    nm = names[c]
    # row 1: total and atom projected
    ax = panel(c, 0, 45, 10, 5)
    if c == 0:
        exp(ax, exp_e_a, exp_a, 'Exp. data from Ref.')
    if c == 2:
        exp(ax, exp_e_c, exp_c, 'Exp. data from\nRef.')
    line(ax, tot_val + tot_c[c], K_TOT, 'Tot')
    line(ax, ge_val + ge_c[c], K_RED, 'Ge')
    line(ax, pt_val + pt_c[c], K_GRN, 'Pt')
    line(ax, atom_c[c], K_BLU, nm)
    line(ax, f_c[c], K_ORA, nm + ' (f)')
    lg = legend(ax, 0.025 if c != 1 else 0.05, 0.95)
    for t in lg.get_texts():
        t.set_multialignment('center')
    tag(ax, '(%s)' % letters[c], 0.955, 0.945)

    # row 2: rare-earth orbitals
    ax = panel(c, 1, 12, 5, 1)
    line(ax, re_s, K_RED, nm + '-s')
    line(ax, re_p, K_GRN, nm + '-p')
    line(ax, d_c[c], K_BLU, nm + '-d')
    line(ax, f_c[c], K_ORA, nm + '-f')
    legend(ax, 0.045, 0.96)
    tag(ax, '(%s)' % letters[3 + c], 0.96, 0.955)
    rect = [[0.183, 0.161, 0.434, 0.472], [0.087, 0.161, 0.425, 0.472], [0.078, 0.161, 0.40, 0.472]][c]
    ytop, ymaj = [(0.25, 0.1), (1.6, 0.5), (7.0, 2.0)][c]
    ia = inset(ax, rect, ytop, ymaj)
    for pts, k in [(re_s, K_RED), (re_p, K_GRN), (d_c[c], K_BLU), (f_c[c], K_ORA)]:
        line(ia, pts, k)

    # row 3: Pt orbitals
    ax = panel(c, 2, 12, 5, 1)
    if c == 0:
        exp(ax, exp_e_g, exp_g, 'Exp. data x 0.55')
    if c == 2:
        exp(ax, exp_e_a + [1.6, 1.8], exp_i, 'Exp. data x 0.55')
    line(ax, pt_s, K_RED, 'Pt-s')
    line(ax, pt_p, K_GRN, 'Pt-p')
    line(ax, pt_d_val + ptd_c[c], K_BLU, 'Pt-d')
    line(ax, zero_line, K_ORA, 'Pt-f')
    legend(ax, 0.29 if c != 1 else 0.315, 0.96, sp=0.15)
    tag(ax, '(%s)' % letters[6 + c], 0.955, 0.94)
    rect = [[0.534, 0.354, 0.425, 0.445], [0.511, 0.34, 0.443, 0.457], [0.511, 0.34, 0.443, 0.457]][c]
    ia = inset(ax, rect, 1.2, 0.5)
    s_, p_, d_ = ins_pt[c]
    ia.plot(inset_e, s_, color=K_RED, lw=0.9)
    ia.plot(inset_e, p_, color=K_GRN, lw=0.9)
    ia.plot(inset_e, d_, color=K_BLU, lw=0.9)
    line(ia, zero_line, K_ORA)

    # row 4: Ge orbitals
    ax = panel(c, 3, 4.5, 1, 0.5)
    line(ax, ge_s_val + ges_c[c], K_RED, 'Ge-s')
    line(ax, ge_p_val + gep_c[c], K_GRN, 'Ge-p')
    line(ax, ge_d_val + ged_c[c], K_BLU, 'Ge-d')
    line(ax, zero_line, K_ORA, 'Ge-f')
    legend(ax, 0.14, 0.91, fs=8.5)
    tag(ax, '(%s)' % letters[9 + c], 0.93, 0.915, fs=15)

# coloured frames
for c in range(3):
    x0, x1 = 7 + 270 * c, 261 + 270 * c
    for y0, y1 in [(60, 255), (293, 492.5), (492.5, 694.5), (694.5, 895)]:
        fig.add_artist(Rectangle((x0 / W, 1 - y1 / H), (x1 - x0) / W, (y1 - y0) / H, transform=fig.transFigure,
                                 fill=False, lw=4.3, edgecolor=col_edge[c], zorder=5))

# titles
head_x = [133, 402, 672]
for c in range(3):
    fig.text(head_x[c] / W, 1 - 17 / H,
             r'$\mathbf{%s}\mathrm{Pt}_{\mathsf{4}}\mathrm{Ge}_{\mathsf{12}}$' % names[c],
             color=col_head[c], fontsize=18, ha='center', va='center')
fig.text(400 / W, 1 - 45 / H, 'Total and Atom-Projected Density of States (DOS)', fontsize=15,
         ha='center', va='center')
fig.text(405 / W, 1 - 274 / H, 'Orbital-Projected Density of States (DOS)', fontsize=15,
         ha='center', va='center')

nf_x = [129, 397, 668]
for c in range(3):
    fig.text(nf_x[c] / W, 1 - 913 / H, r'n$_\mathrm{f}$=%d' % c, family='DejaVu Sans', math_fontfamily='dejavusans',
             fontsize=15, ha='center', va='center')
fig.add_artist(FancyArrowPatch((10 / W, 1 - 927 / H), (797 / W, 1 - 927 / H), transform=fig.transFigure,
                               arrowstyle='-|>', mutation_scale=22, lw=1.5, color='black'))
fig.text(400 / W, 1 - 946 / H, 'Number of f electrons', fontsize=19, ha='center', va='center')

fig.savefig('out.png', dpi=100)
